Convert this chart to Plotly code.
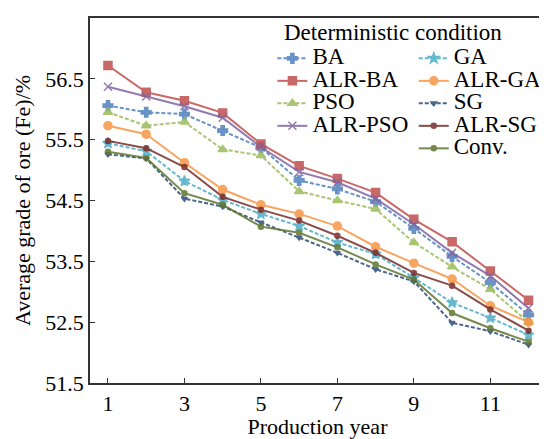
import plotly.graph_objects as go

years = list(range(1, 13))

ba      = [56.06, 55.95, 55.92, 55.65, 55.37, 54.83, 54.69, 54.48, 54.04, 53.58, 53.15, 52.62]
alr_ba  = [56.72, 56.28, 56.14, 55.94, 55.43, 55.07, 54.86, 54.63, 54.19, 53.82, 53.34, 52.86]
pso     = [55.95, 55.73, 55.79, 55.34, 55.24, 54.65, 54.50, 54.36, 53.81, 53.41, 53.04, 52.50]
alr_pso = [56.37, 56.21, 56.05, 55.86, 55.38, 54.97, 54.80, 54.53, 54.11, 53.64, 53.26, 52.73]
ga      = [55.44, 55.31, 54.82, 54.51, 54.28, 54.08, 53.81, 53.62, 53.23, 52.82, 52.57, 52.29]
alr_ga  = [55.73, 55.59, 55.12, 54.68, 54.43, 54.28, 54.08, 53.74, 53.47, 53.21, 52.77, 52.50]
sg      = [55.26, 55.19, 54.53, 54.40, 54.14, 53.89, 53.64, 53.37, 53.17, 52.49, 52.35, 52.13]
alr_sg  = [55.48, 55.36, 55.05, 54.56, 54.35, 54.17, 53.92, 53.64, 53.31, 53.10, 52.71, 52.36]
conv    = [55.30, 55.20, 54.62, 54.43, 54.07, 53.97, 53.73, 53.45, 53.20, 52.65, 52.40, 52.18]

x_ticks = [1, 3, 5, 7, 9, 11]
y_ticks = [51.5, 52.5, 53.5, 54.5, 55.5, 56.5, 57.5]
y_ticktext = ["51.5", "52.5", "53.5", "54.5", "55.5", "56.5", "57.5"]

series = [
    ("BA", ba, "#4F81BD", "4px,2px", "cross", "legend"),
    ("ALR-BA", alr_ba, "#C0504D", "solid", "square", "legend"),
    ("PSO", pso, "#9BBB59", "4px,2px", "triangle-up", "legend"),
    ("ALR-PSO", alr_pso, "#8064A2", "solid", "x-thin-open", "legend"),
    ("GA", ga, "#4BACC6", "4px,2px", "star", "legend2"),
    ("ALR-GA", alr_ga, "#F79646", "solid", "circle", "legend2"),
    ("SG", sg, "#2C4D75", "4px,2px", "triangle-down", "legend2"),
    ("ALR-SG", alr_sg, "#772C2A", "solid", "circle", "legend2"),
    ("Conv.", conv, "#5F7530", "solid", "circle", "legend2"),
]

TXT = 23

fig = go.Figure()
for name, vals, color, dash, sym, leg in series:
    small = name in ("SG", "ALR-SG", "Conv.")
    fig.add_trace(go.Scatter(
        x=years, y=vals,
        name="<span style='font-size:%dpx'>%s</span>" % (TXT, name),
        mode="lines+markers",
        line=dict(color=color, width=2, dash=dash),
        marker=dict(symbol=sym, size=5 if small else 8, color=color,
                    line=dict(color=color, width=1.5)),
        opacity=0.85,
        legend=leg,
    ))

font_family = "Liberation Serif, Times New Roman, serif"
# page body has an 8px default margin, so the figure is sized/margined to compensate
fig.update_layout(
    width=539, height=431,
    margin=dict(l=82, r=1, t=10, b=56),
    paper_bgcolor="white", plot_bgcolor="white",
    font=dict(family=font_family, size=22, color="black"),
    xaxis=dict(
        range=[0.53, 12.43], tickvals=x_ticks,
        showline=True, linecolor="#333", linewidth=1.5, mirror=True,
        ticks="inside", ticklen=5, tickcolor="#333",
        showgrid=False, zeroline=False, automargin=False,
        title=dict(text="Production year", standoff=2, font=dict(size=22)),
        tickfont=dict(size=22),
    ),
    yaxis=dict(
        range=[51.5, 57.5], tickvals=y_ticks, ticktext=y_ticktext,
        showline=True, linecolor="#333", linewidth=1.5, mirror=False,
        ticks="inside", ticklen=5, tickcolor="#333",
        showgrid=False, zeroline=False, automargin=False,
        title=dict(text="Average grade of ore (Fe)/%", standoff=9, font=dict(size=22)),
        tickfont=dict(size=22),
    ),
    legend=dict(
        x=0.40, y=0.934, xanchor="left", yanchor="top",
        bgcolor="rgba(0,0,0,0)", font=dict(size=15),
        tracegroupgap=0, itemwidth=30,
    ),
    legend2=dict(
        x=0.71, y=0.934, xanchor="left", yanchor="top",
        bgcolor="rgba(0,0,0,0)", font=dict(size=15),
        tracegroupgap=0, itemwidth=30,
    ),
    annotations=[dict(
        text="Deterministic condition", xref="paper", yref="paper",
        x=0.423, y=0.959, xanchor="left", yanchor="middle",
        showarrow=False, font=dict(size=TXT),
    )],
    showlegend=True,
)

fig.write_html("out.html")
